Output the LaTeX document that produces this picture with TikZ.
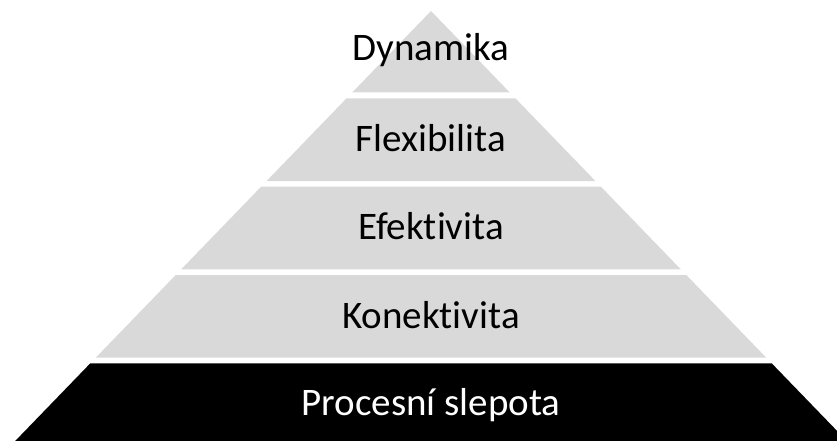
\documentclass[tikz,border=0pt]{standalone}
\usepackage{fontspec}
\setmainfont[RawFeature=-liga]{Carlito}
\begin{document}
\begin{tikzpicture}[x=1pt,y=-1pt,
  lbl/.style={anchor=base,inner sep=0pt,font=\fontsize{39}{44}\selectfont}]
% canvas
\useasboundingbox (0,0) rectangle (837,441);
\clip (0,0) rectangle (837,441);
% pyramid: apex at (431,11), half-width grows 0.967 per unit of height
\def\ax{431}\def\ay{11}\def\k{0.967}
\newcommand{\pyrband}[3]{%
  \fill[#3] ({\ax-\k*(#1-\ay)},#1) -- ({\ax+\k*(#1-\ay)},#1)
    -- ({\ax+\k*(#2-\ay)},#2) -- ({\ax-\k*(#2-\ay)},#2) -- cycle;}
\definecolor{bandgray}{HTML}{D9D9D9}
\pyrband{11}{92.3}{bandgray}
\pyrband{98.3}{181.1}{bandgray}
\pyrband{186.6}{269.3}{bandgray}
\pyrband{275}{357.6}{bandgray}
\pyrband{363.3}{446}{black}
% labels
\node[lbl] (dyn) at (431,60.7) {Dynamika};
\node[lbl] (flex) at (431,151.5) {Flexibilita};
\node[lbl] (efek) at (431,239.8) {Efektivita};
\node[lbl] (kon) at (431,328) {Konektivita};
\node[lbl,text=white] (proc) at (431,415.7) {Procesní slepota};
\end{tikzpicture}
\end{document}
